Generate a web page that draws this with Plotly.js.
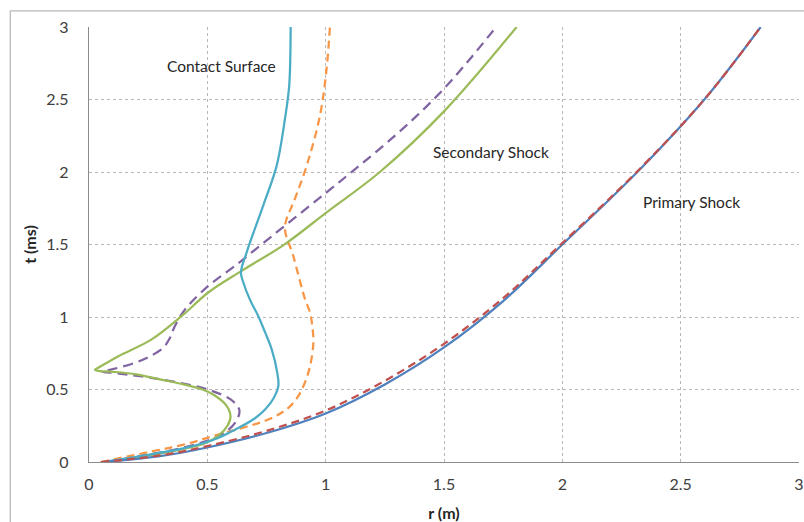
<!DOCTYPE html>
<html>
<head>
<meta charset="utf-8">
<script src="https://cdn.plot.ly/plotly-3.0.1.min.js"></script>
<style>html,body{margin:0;padding:0;background:#fff;}#chart{width:804px;height:522px;}</style>
</head>
<body>
<div id="chart"></div>
<script>
// Primary shock
const primaryA_r = [0.06, 0.3, 0.5, 0.75, 1.0, 1.25, 1.5, 1.75, 2.0, 2.317, 2.60, 2.838];
const primaryA_t = [0, 0.04, 0.10, 0.20, 0.335, 0.535, 0.79, 1.11, 1.5, 2.0, 2.5, 3.0];
const primaryB_r = [0.05, 0.3, 0.5, 0.75, 1.0, 1.25, 1.5, 1.75, 2.0, 2.317, 2.60, 2.838];
const primaryB_t = [0, 0.045, 0.11, 0.215, 0.355, 0.56, 0.815, 1.13, 1.51, 2.005, 2.5, 3.0];
// Secondary shock
const secondaryA_r = [0.07, 0.25, 0.4, 0.49, 0.546, 0.585, 0.598, 0.58, 0.53, 0.48, 0.40, 0.30, 0.20, 0.10, 0.04, 0.025, 0.05, 0.124, 0.265, 0.392, 0.504, 0.645, 0.828, 1.004, 1.229, 1.504, 1.807];
const secondaryA_t = [0, 0.045, 0.09, 0.13, 0.18, 0.25, 0.315, 0.39, 0.46, 0.5, 0.535, 0.57, 0.605, 0.622, 0.628, 0.635, 0.66, 0.73, 0.846, 1.007, 1.169, 1.318, 1.503, 1.722, 2.0, 2.425, 3.0];
const secondaryB_r = [0.07, 0.25, 0.4, 0.511, 0.58, 0.625, 0.635, 0.60, 0.511, 0.384, 0.215, 0.10, 0.054, 0.068, 0.194, 0.27, 0.315, 0.34, 0.363, 0.406, 0.504, 0.617, 0.744, 0.87, 1.004, 1.117, 1.25, 1.38, 1.497, 1.61, 1.72];
const secondaryB_t = [0, 0.05, 0.10, 0.154, 0.21, 0.29, 0.36, 0.43, 0.495, 0.546, 0.592, 0.615, 0.622, 0.627, 0.684, 0.74, 0.79, 0.85, 0.938, 1.053, 1.214, 1.353, 1.52, 1.685, 1.86, 2.01, 2.19, 2.38, 2.57, 2.78, 3.0];
// Contact surface
const contactA_r = [0.06, 0.25, 0.406, 0.546, 0.617, 0.70, 0.744, 0.78, 0.80, 0.795, 0.772, 0.745, 0.715, 0.68, 0.652, 0.642, 0.666, 0.736, 0.793, 0.828, 0.846, 0.852];
const contactA_t = [0, 0.05, 0.097, 0.166, 0.223, 0.30, 0.362, 0.44, 0.523, 0.62, 0.777, 0.89, 1.007, 1.12, 1.238, 1.307, 1.445, 1.768, 2.044, 2.367, 2.597, 3.0];
const contactB_r = [0.05, 0.265, 0.40, 0.546, 0.757, 0.84, 0.884, 0.915, 0.934, 0.948, 0.944, 0.934, 0.913, 0.863, 0.828, 0.87, 0.92, 0.976, 1.004, 1.018];
const contactB_t = [0, 0.073, 0.12, 0.189, 0.293, 0.37, 0.454, 0.56, 0.661, 0.823, 0.93, 1.03, 1.122, 1.422, 1.618, 1.814, 2.044, 2.39, 2.713, 3.0];

const xTicks = [0, 0.5, 1, 1.5, 2, 2.5, 3];
const yTicks = [0, 0.5, 1, 1.5, 2, 2.5, 3];
const labels = ["Contact Surface", "Secondary Shock", "Primary Shock"];

const FONT = "Lato, 'Open Sans', sans-serif";
function tr(x, y, color, dash) {
  return {x: x, y: y, type: 'scatter', mode: 'lines', hoverinfo: 'skip',
    line: {color: color, width: 2.25, dash: dash, shape: 'spline', smoothing: 1.0}};
}
const data = [
  tr(contactB_r, contactB_t, '#F79646', '8px,5px'),
  tr(secondaryB_r, secondaryB_t, '#8064A2', '10px,6px'),
  tr(secondaryA_r, secondaryA_t, '#9BBB59', 'solid'),
  tr(contactA_r, contactA_t, '#4BACC6', 'solid'),
  tr(primaryA_r, primaryA_t, '#4F81BD', 'solid'),
  tr(primaryB_r, primaryB_t, '#C0504D', '8px,5px')
];

const axisCommon = {
  range: [0, 3], showgrid: true, gridcolor: '#b8b8b8', griddash: 'dot', gridwidth: 1,
  zeroline: false, showline: true, linecolor: '#8c8c8c', linewidth: 1.3, ticks: '',
  tickfont: {family: FONT, size: 16, color: '#404040'}, fixedrange: true
};
const layout = {
  width: 804, height: 522, showlegend: false,
  paper_bgcolor: '#ffffff', plot_bgcolor: '#ffffff',
  margin: {l: 89, r: 5, t: 27, b: 60},
  xaxis: Object.assign({}, axisCommon, {
    tickvals: xTicks, ticktext: xTicks.map(String), ticklabelstandoff: 7,
    title: {text: 'r (m)', font: {family: FONT, size: 16, color: '#262626', weight: 'bold'}, standoff: 16}
  }),
  yaxis: Object.assign({}, axisCommon, {
    tickvals: yTicks, ticktext: yTicks.map(String), ticklabelstandoff: 16,
    title: {text: 't (ms)', font: {family: FONT, size: 16, color: '#262626', weight: 'bold'}, standoff: 5}
  }),
  annotations: [
    {x: 0.558, y: 2.73, text: labels[0]},
    {x: 1.70, y: 2.14, text: labels[1]},
    {x: 2.544, y: 1.79, text: labels[2]}
  ].map(a => Object.assign(a, {xref: 'x', yref: 'y', showarrow: false,
      font: {family: FONT, size: 15.5, color: '#262626'}})),
  shapes: [
    {type: 'line', xref: 'paper', yref: 'paper', x0: -0.111, y0: 1.037, x1: 1.6, y1: 1.037,
      line: {color: '#a6a6a6', width: 1}, layer: 'below'},
    {type: 'line', xref: 'paper', yref: 'paper', x0: -0.111, y0: -0.6, x1: -0.111, y1: 1.037,
      line: {color: '#a6a6a6', width: 1}, layer: 'below'}
  ]
};
Plotly.newPlot('chart', data, layout, {displayModeBar: false, staticPlot: true});
</script>
</body>
</html>
